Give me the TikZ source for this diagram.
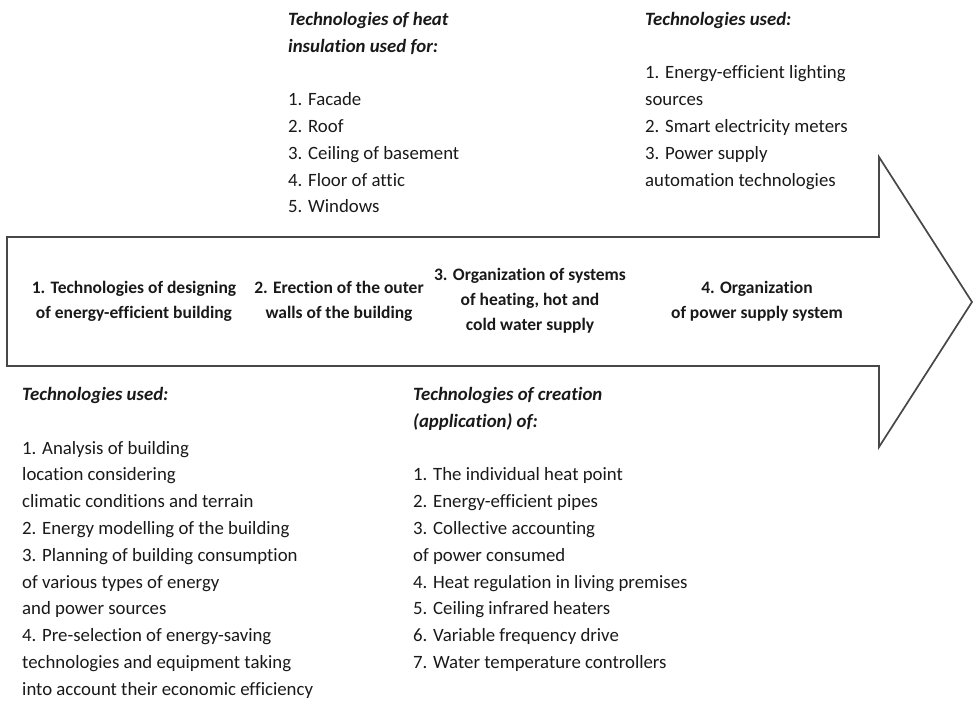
\documentclass[tikz,border=0pt]{standalone}
\usepackage{fontspec}
\setmainfont{Carlito}[Ligatures=NoCommon]
\usepackage{tikz}
\usetikzlibrary{positioning}

\begin{document}
\begin{tikzpicture}[x=1pt,y=-1pt,
  arrowline/.style={draw=black!72,line width=1.7pt,line join=miter},
  stage/.style={align=center,inner sep=0pt,text=black!90,
    font=\fontsize{17.5}{25}\selectfont\bfseries},
  techlist/.style={align=left,inner sep=0pt,anchor=north west,text=black!90,
    font=\fontsize{18.8}{26.8}\selectfont}]

\useasboundingbox (0,0) rectangle (973,702);

\draw[arrowline] (7,237) -- (879,237) -- (879,157) -- (972,302)
  -- (879,447) -- (879,366) -- (7,366) -- cycle;

\node[stage] (design) at (134,301)
  {1. Technologies of designing\\of energy-efficient building};
\node[stage] (walls) at (339,301)
  {2. Erection of the outer\\walls of the building};
\node[stage] (heating) at (530,301)
  {3. Organization of systems\\of heating, hot and\\cold water supply};
\node[stage] (power) at (757,301)
  {4. Organization\\of power supply system};

\node[techlist] (insulation) at (288,12)
  {\textbf{\textit{Technologies of heat}}\\
   \textbf{\textit{insulation used for:}}\\[26.8pt]
   1. Facade\\2. Roof\\3. Ceiling of basement\\4. Floor of attic\\5. Windows};
\node[techlist] (powerused) at (645,12)
  {\textbf{\textit{Technologies used:}}\\[26.8pt]
   1. Energy-efficient lighting\\sources\\2. Smart electricity meters\\
   3. Power supply\\automation technologies};
\node[techlist] (designused) at (22,387)
  {\textbf{\textit{Technologies used:}}\\[26.8pt]
   1. Analysis of building\\location considering\\
   climatic conditions and terrain\\2. Energy modelling of the building\\
   3. Planning of building consumption\\of various types of energy\\
   and power sources\\4. Pre-selection of energy-saving\\
   technologies and equipment taking\\into account their economic efficiency};
\node[techlist] (creation) at (413,387)
  {\textbf{\textit{Technologies of creation}}\\
   \textbf{\textit{(application) of:}}\\[26.8pt]
   1. The individual heat point\\2. Energy-efficient pipes\\
   3. Collective accounting\\of power consumed\\
   4. Heat regulation in living premises\\5. Ceiling infrared heaters\\
   6. Variable frequency drive\\7. Water temperature controllers};
\end{tikzpicture}
\end{document}
